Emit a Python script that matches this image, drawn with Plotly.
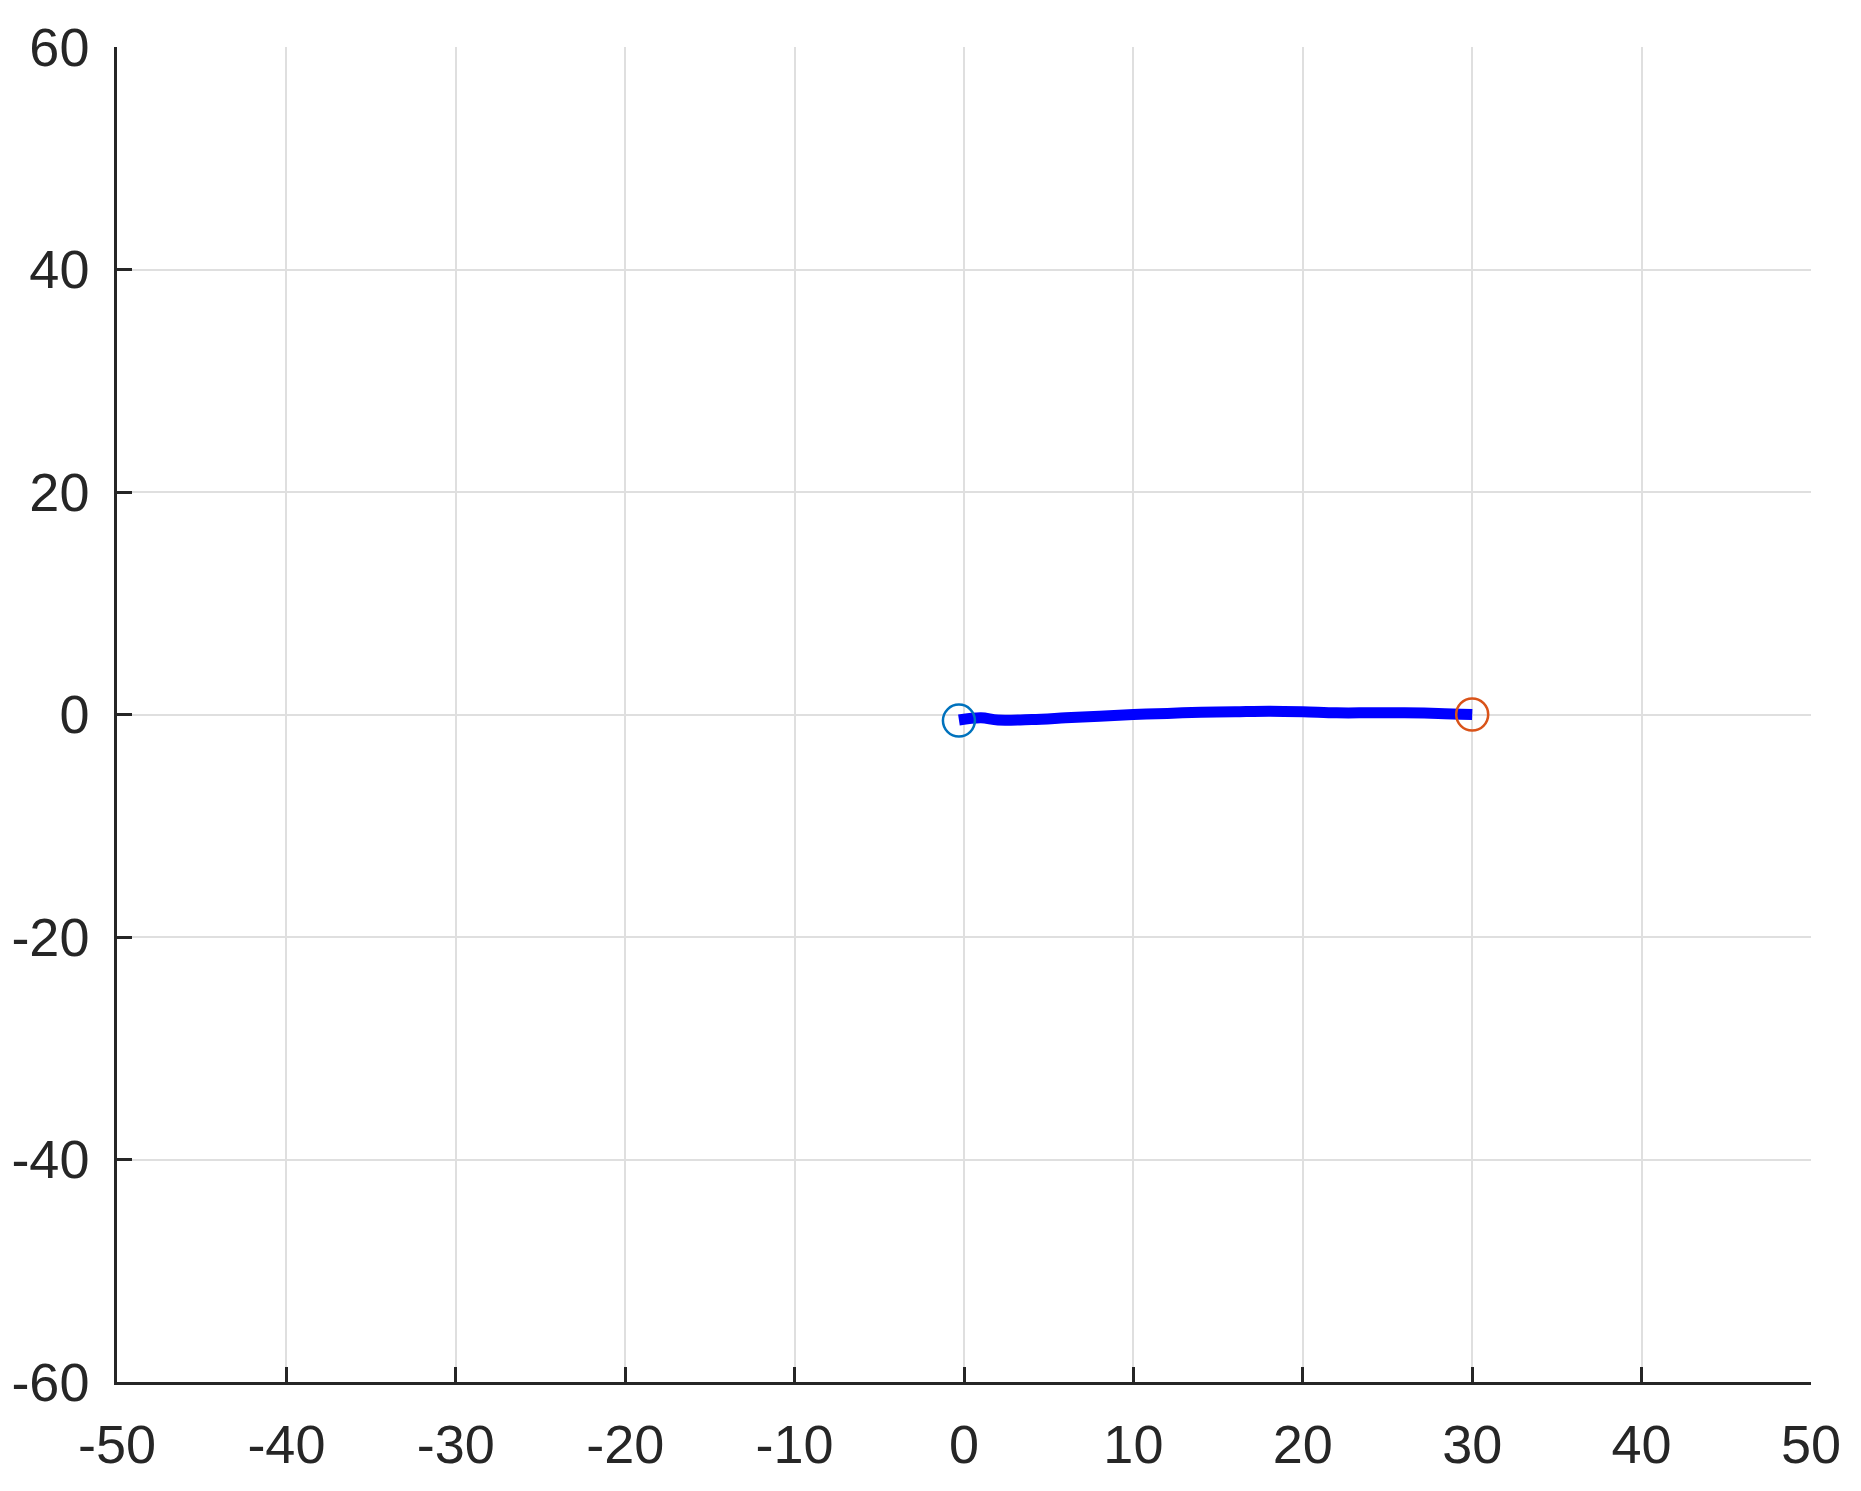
import plotly.graph_objects as go

# path traced from start (blue circle) to end (orange circle)
path_x = [-0.3, 1.0, 2.0, 4.0, 6.0, 8.0, 10.0, 12.0, 14.0, 16.0, 18.0, 20.0, 22.0, 24.0, 26.0, 28.0, 30.0]
path_y = [-0.5, -0.3, -0.5, -0.45, -0.3, -0.15, 0.0, 0.1, 0.2, 0.25, 0.3, 0.25, 0.15, 0.15, 0.15, 0.1, 0.0]

start_x, start_y = [-0.3], [-0.55]
end_x, end_y = [30.0], [0.0]

x_ticks = [-50, -40, -30, -20, -10, 0, 10, 20, 30, 40, 50]
y_ticks = [-60, -40, -20, 0, 20, 40, 60]

AXIS = "#262626"
GRID = "#DFDFDF"

fig = go.Figure()
fig.add_trace(go.Scatter(
    x=path_x, y=path_y, mode="lines",
    line=dict(color="#0000FF", width=11, shape="spline"),
    showlegend=False,
))
fig.add_trace(go.Scatter(
    x=start_x, y=start_y, mode="markers",
    marker=dict(symbol="circle-open", size=32, color="#0072BD", line=dict(width=2.5)),
    showlegend=False,
))
fig.add_trace(go.Scatter(
    x=end_x, y=end_y, mode="markers",
    marker=dict(symbol="circle-open", size=32, color="#D95319", line=dict(width=2.5)),
    showlegend=False,
))

axis_common = dict(
    showline=True, linecolor=AXIS, linewidth=2.5,
    ticks="inside", ticklen=15, tickwidth=2.5, tickcolor=AXIS,
    showgrid=True, gridcolor=GRID, gridwidth=1.5,
    zeroline=False, mirror=False, automargin=False,
    tickfont=dict(family="Liberation Sans, Arial, sans-serif", size=54, color=AXIS),
)

fig.update_xaxes(range=[-50, 50], tickvals=x_ticks, ticktext=[str(v) for v in x_ticks],
                 ticklabelstandoff=13, **axis_common)
fig.update_yaxes(range=[-60, 60], tickvals=y_ticks, ticktext=[str(v) for v in y_ticks],
                 ticklabelstandoff=14, **axis_common)

fig.update_layout(
    width=1861, height=1491,
    margin=dict(l=109, r=58, t=39, b=117),
    plot_bgcolor="white", paper_bgcolor="white",
)

fig.write_html("out.html")
